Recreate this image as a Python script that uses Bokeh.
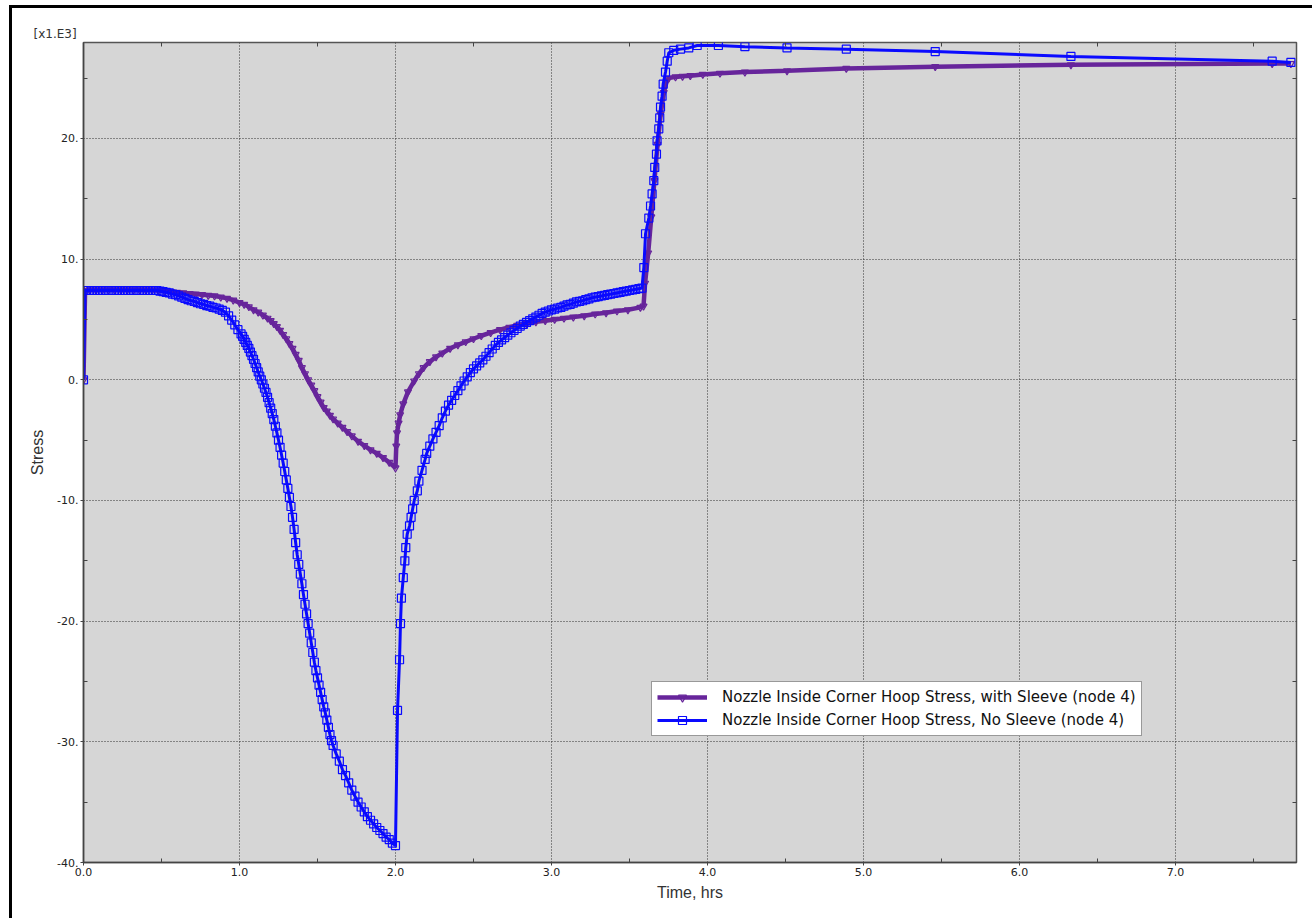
from bokeh.plotting import figure
from bokeh.models import (FixedTicker, LinearAxis, Legend, LegendItem, ColumnDataSource, Range1d)
from bokeh.layouts import column
from bokeh.embed import file_html
from bokeh.resources import INLINE

# ---------------- data (stress in units of 1e3) ----------------
t_sleeve = [0.0, 0.01, 0.04, 0.08, 0.12, 0.16, 0.20, 0.24, 0.28, 0.32, 0.36, 0.40, 0.44, 0.48,
            0.52, 0.56, 0.60, 0.64, 0.68, 0.72, 0.76, 0.80, 0.84, 0.88, 0.92, 0.96, 1.00, 1.03,
            1.06, 1.09, 1.12, 1.15, 1.18, 1.20, 1.22, 1.24, 1.26, 1.28, 1.30, 1.32, 1.34, 1.36,
            1.38, 1.40, 1.42, 1.44, 1.46, 1.48, 1.50, 1.52, 1.54, 1.56, 1.58, 1.60, 1.63, 1.66,
            1.69, 1.72, 1.76, 1.80, 1.84, 1.88, 1.92, 1.96, 2.00,
            2.005, 2.01, 2.02, 2.03, 2.05, 2.08, 2.12, 2.15, 2.18, 2.22, 2.26, 2.30, 2.35, 2.40,
            2.45, 2.50, 2.55, 2.61, 2.67, 2.73, 2.78, 2.84, 2.90, 2.96, 3.02, 3.08, 3.14, 3.21,
            3.28, 3.35, 3.42, 3.49, 3.57, 3.59,
            3.60, 3.62, 3.64, 3.66, 3.68, 3.70, 3.72, 3.74, 3.752, 3.795, 3.84, 3.89, 3.97, 4.08,
            4.24, 4.51, 4.89, 5.46, 6.33, 7.62, 7.74]
s_sleeve = [0.0, 7.4, 7.45, 7.45, 7.45, 7.45, 7.45, 7.45, 7.45, 7.45, 7.45, 7.45, 7.45, 7.4,
            7.35, 7.3, 7.25, 7.2, 7.15, 7.1, 7.05, 7.0, 6.95, 6.85, 6.75, 6.6, 6.4, 6.25,
            6.05, 5.8, 5.6, 5.35, 5.1, 4.9, 4.65, 4.4, 4.1, 3.75, 3.4, 3.0, 2.6, 2.1,
            1.6, 1.0, 0.5, 0.0, -0.45, -0.9, -1.4, -1.85, -2.3, -2.6, -2.95, -3.25, -3.6, -3.95,
            -4.3, -4.65, -5.1, -5.45, -5.8, -6.1, -6.45, -6.85, -7.3,
            -5.5, -4.4, -3.6, -2.9, -2.0, -1.0, -0.1, 0.5, 1.0, 1.5, 1.9, 2.2, 2.6, 2.9,
            3.15, 3.4, 3.65, 3.9, 4.15, 4.35, 4.5, 4.65, 4.8, 4.9, 5.0, 5.1, 5.2, 5.3,
            5.45, 5.55, 5.7, 5.8, 6.0, 6.1,
            8.0, 10.5, 13.5, 16.5, 19.5, 22.0, 23.8, 24.8, 25.0, 25.1, 25.15, 25.2, 25.3, 25.4,
            25.5, 25.6, 25.8, 25.95, 26.1, 26.2, 26.2]

t_nosleeve = [0.0, 0.01, 0.03, 0.05, 0.07, 0.09, 0.11, 0.13, 0.15, 0.17, 0.19, 0.21, 0.23, 0.25,
              0.27, 0.29, 0.31, 0.33, 0.35, 0.37, 0.39, 0.41, 0.43, 0.45, 0.47, 0.49, 0.51, 0.53,
              0.55, 0.57, 0.59, 0.61, 0.63, 0.65, 0.67, 0.69, 0.71, 0.73, 0.75, 0.77, 0.79, 0.81,
              0.83, 0.85, 0.87, 0.89, 0.91, 0.93, 0.95, 0.97, 0.99, 1.01, 1.02, 1.03, 1.04, 1.05,
              1.06, 1.07, 1.08, 1.09, 1.10, 1.11, 1.12,
              1.13, 1.14, 1.15, 1.16, 1.17, 1.18, 1.19, 1.20, 1.21, 1.22, 1.23, 1.24, 1.25, 1.26,
              1.27, 1.28, 1.29, 1.30, 1.31, 1.32, 1.33, 1.34, 1.35, 1.36, 1.37, 1.38, 1.39, 1.40,
              1.41, 1.42, 1.43, 1.44, 1.45, 1.46, 1.47, 1.48, 1.49, 1.50, 1.51, 1.52, 1.53, 1.54,
              1.55, 1.56, 1.57, 1.58, 1.59, 1.60, 1.62, 1.64, 1.66, 1.68, 1.70, 1.72, 1.74, 1.76,
              1.78, 1.80, 1.82, 1.84, 1.86, 1.88, 1.90, 1.92, 1.94, 1.96, 1.98, 2.00,
              2.013, 2.026, 2.032, 2.038, 2.05, 2.06, 2.066, 2.075, 2.09, 2.10, 2.11, 2.12, 2.14,
              2.15, 2.17, 2.19,
              2.20, 2.22, 2.24, 2.26, 2.28, 2.30, 2.32, 2.34, 2.36, 2.38, 2.40, 2.42, 2.44, 2.46,
              2.48, 2.50, 2.52, 2.54, 2.56, 2.58, 2.60, 2.62, 2.64, 2.66, 2.68, 2.70, 2.72, 2.74,
              2.76, 2.78, 2.80, 2.82, 2.84, 2.86, 2.88, 2.90, 2.92, 2.94, 2.96, 2.98, 3.00, 3.02,
              3.04, 3.06, 3.08, 3.10, 3.12, 3.14, 3.16, 3.18, 3.20, 3.22, 3.24, 3.26, 3.28, 3.30,
              3.32, 3.34, 3.36, 3.38, 3.40, 3.42, 3.44, 3.46, 3.48, 3.50, 3.52, 3.54, 3.56, 3.58,
              3.592, 3.603, 3.624, 3.635, 3.645, 3.656, 3.662, 3.673, 3.677, 3.688, 3.694, 3.699,
              3.709, 3.716, 3.731, 3.742, 3.752, 3.784, 3.827, 3.880, 3.934, 4.07, 4.24, 4.51,
              4.89, 5.46, 6.33, 7.62, 7.74]
s_nosleeve = [0.0, 7.4, 7.4, 7.4, 7.4, 7.4, 7.4, 7.4, 7.4, 7.4, 7.4, 7.4, 7.4, 7.4,
              7.4, 7.4, 7.4, 7.4, 7.4, 7.4, 7.4, 7.4, 7.4, 7.4, 7.4, 7.35, 7.3, 7.25,
              7.2, 7.1, 7.05, 6.95, 6.85, 6.75, 6.65, 6.55, 6.5, 6.4, 6.3, 6.25, 6.15, 6.1,
              6.0, 5.95, 5.85, 5.75, 5.6, 5.3, 4.95, 4.55, 4.15, 3.8, 3.6, 3.35, 3.1, 2.85,
              2.6, 2.3, 2.0, 1.7, 1.35, 1.0, 0.65,
              0.3, 0.0, -0.35, -0.7, -1.05, -1.45, -1.9, -2.35, -2.8, -3.3, -3.85, -4.4, -5.0, -5.6,
              -6.25, -6.9, -7.6, -8.3, -9.0, -9.75, -10.5, -11.4, -12.4, -13.5, -14.5, -15.3, -16.1, -16.9,
              -17.8, -18.6, -19.4, -20.2, -21.0, -21.8, -22.6, -23.4, -24.1, -24.7, -25.3, -25.9, -26.5, -27.1,
              -27.6, -28.2, -28.8, -29.4, -29.9, -30.3, -31.0, -31.6, -32.3, -32.8, -33.4, -34.0, -34.5, -35.0,
              -35.4, -35.8, -36.2, -36.5, -36.8, -37.1, -37.35, -37.6, -37.9, -38.1, -38.4, -38.6,
              -27.4, -23.2, -20.2, -18.1, -16.4, -15.0, -13.9, -12.8, -12.1, -11.4, -10.7, -10.0, -9.2,
              -8.4, -7.5, -6.6,
              -6.1, -5.5, -4.9, -4.35, -3.8, -3.15, -2.6, -2.1, -1.7, -1.3, -0.9, -0.5, -0.1, 0.25,
              0.6, 0.9, 1.15, 1.4, 1.65, 1.95, 2.25, 2.55, 2.85, 3.1, 3.3, 3.5, 3.7, 3.9,
              4.1, 4.25, 4.45, 4.6, 4.75, 4.9, 5.05, 5.2, 5.35, 5.5, 5.6, 5.7, 5.8, 5.85,
              5.95, 6.0, 6.1, 6.2, 6.25, 6.35, 6.45, 6.5, 6.55, 6.65, 6.7, 6.8, 6.85, 6.9,
              6.95, 7.0, 7.05, 7.1, 7.15, 7.2, 7.25, 7.3, 7.35, 7.4, 7.45, 7.5, 7.55, 7.6,
              9.3, 12.1, 13.4, 14.4, 15.4, 16.5, 17.6, 18.7, 19.8, 20.8, 21.7, 22.6,
              23.5, 24.5, 25.5, 26.4, 27.1, 27.3, 27.4, 27.5, 27.7, 27.7, 27.6, 27.5,
              27.4, 27.2, 26.8, 26.4, 26.3]

x_major = [0, 1, 2, 3, 4, 5, 6, 7]
x_minor = [0.5, 1.5, 2.5, 3.5, 4.5, 5.5, 6.5, 7.5]
x_labels = ["0.0", "1.0", "2.0", "3.0", "4.0", "5.0", "6.0", "7.0"]
y_major = [-40, -30, -20, -10, 0, 10, 20]
y_minor = [-35, -25, -15, -5, 5, 15, 25]
y_labels = ["-40.", "-30.", "-20.", "-10.", "0.", "10.", "20."]

label_sleeve = "Nozzle Inside Corner Hoop Stress, with Sleeve (node 4)"
label_nosleeve = "Nozzle Inside Corner Hoop Stress, No Sleeve (node 4)"

PURPLE = "#67259b"
BLUE = "#0a0aff"
TICK_FONT = "DejaVu Sans"
W, H = 1300, 910   # figure size inside the black left/top frame

p = figure(width=W, height=H, output_backend="svg", toolbar_location=None,
           x_range=Range1d(0, 7.776), y_range=Range1d(-40, 27.95),
           min_border_left=71, min_border_right=16, min_border_top=34, min_border_bottom=56,
           background_fill_color="#d6d6d6", border_fill_color="white")

p.outline_line_color = "#555555"
p.outline_line_width = 1.5

# title used as the scale factor label
p.title.text = "[x1.E3]"
p.title.text_font = TICK_FONT
p.title.text_font_size = "12px"
p.title.text_font_style = "normal"
p.title.text_color = "#333333"
p.title.align = "left"
p.title.offset = -50
p.title.standoff = 3

# axes
xa = p.xaxis[0]
ya = p.yaxis[0]
xa.ticker = FixedTicker(ticks=x_major, minor_ticks=x_minor)
ya.ticker = FixedTicker(ticks=y_major, minor_ticks=y_minor)
xa.major_label_overrides = {v: s for v, s in zip(x_major, x_labels)}
ya.major_label_overrides = {v: s for v, s in zip(y_major, y_labels)}
for ax in (xa, ya):
    ax.major_label_text_font = TICK_FONT
    ax.major_label_text_font_size = "11px"
    ax.major_label_text_color = "#222222"
    ax.axis_line_color = "#444444"
    ax.axis_line_width = 1.5
    ax.major_tick_line_color = "#444444"
    ax.minor_tick_line_color = "#444444"
    ax.major_tick_out = 3
    ax.major_tick_in = 0
    ax.minor_tick_in = 4
    ax.minor_tick_out = 0
    ax.major_label_standoff = 2
    ax.axis_label_text_font = "Liberation Sans"
    ax.axis_label_text_font_size = "16px"
    ax.axis_label_text_font_style = "normal"
    ax.axis_label_text_color = "#333333"
xa.axis_label = "Time, hrs"
ya.axis_label = "Stress"
xa.axis_label_standoff = 5
ya.axis_label_standoff = 8

# top/right axes: inward minor ticks only, no labels
top = LinearAxis(ticker=FixedTicker(ticks=[], minor_ticks=x_minor),
                 major_tick_out=0, major_tick_in=0, minor_tick_in=4, minor_tick_out=0,
                 axis_line_color=None, minor_tick_line_color="#444444", major_label_standoff=0)
right = LinearAxis(ticker=FixedTicker(ticks=[], minor_ticks=y_minor),
                   major_tick_out=0, major_tick_in=0, minor_tick_in=4, minor_tick_out=0,
                   axis_line_color=None, minor_tick_line_color="#444444", major_label_standoff=0)
p.add_layout(top, "above")
p.add_layout(right, "right")

# grid
for g in (p.xgrid[0], p.ygrid[0]):
    g.grid_line_color = "#333333"
    g.grid_line_dash = "1 2"
    g.grid_line_width = 1
p.xgrid[0].ticker = xa.ticker
p.ygrid[0].ticker = ya.ticker

src_s = ColumnDataSource(dict(t=t_sleeve, s=s_sleeve))
src_n = ColumnDataSource(dict(t=t_nosleeve, s=s_nosleeve))

l1 = p.line("t", "s", source=src_s, line_color=PURPLE, line_width=4.5)
m1 = p.scatter("t", "s", source=src_s, marker="inverted_triangle", size=7,
               line_color=PURPLE, fill_color=None, line_width=1.2)
l2 = p.line("t", "s", source=src_n, line_color=BLUE, line_width=3)
m2 = p.scatter("t", "s", source=src_n, marker="square", size=8,
               line_color=BLUE, fill_color=None, line_width=1.2)

legend = Legend(items=[LegendItem(label=label_sleeve, renderers=[l1, m1]),
                       LegendItem(label=label_nosleeve, renderers=[l2, m2])],
                location=(568, 126))
legend.label_text_font = TICK_FONT
legend.label_text_font_size = "15px"
legend.label_text_color = "#111111"
legend.glyph_width = 50
legend.glyph_height = 20
legend.label_height = 20
legend.label_standoff = 15
legend.spacing = 3
legend.padding = 5
legend.margin = 0
legend.border_line_color = "#333333"
legend.border_line_width = 1
legend.background_fill_color = "white"
legend.background_fill_alpha = 1
p.add_layout(legend, "center")

# black page frame on the left and top edges
inner = column(p, styles={"border-left": "3px solid black", "border-top": "3px solid black"})
page = column(inner, styles={"padding-left": "9px", "padding-top": "5px", "background-color": "white"})

open("out.html", "w").write(file_html(page, INLINE))
